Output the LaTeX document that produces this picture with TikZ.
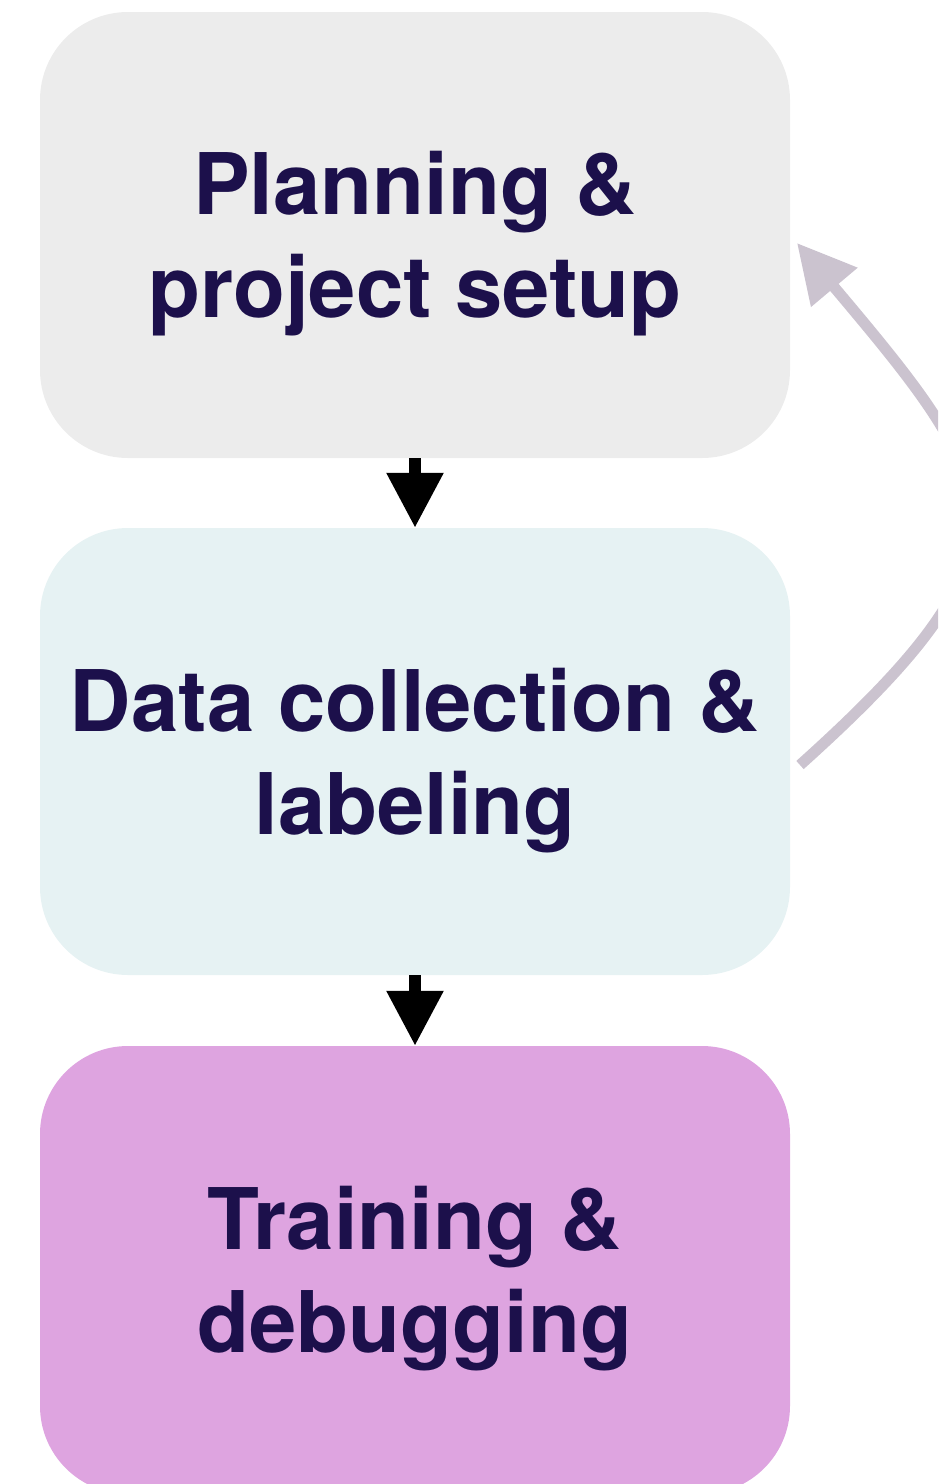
\documentclass[tikz,border=0pt]{standalone}
\usepackage{fontspec}
\setmainfont{TeX Gyre Heros}
\usetikzlibrary{arrows.meta,calc}
\definecolor{txtcol}{RGB}{28,16,75}
\definecolor{boxgray}{RGB}{236,236,236}
\definecolor{boxteal}{RGB}{230,242,243}
\definecolor{boxpink}{RGB}{222,164,224}
\definecolor{loopcol}{RGB}{203,195,207}
\tikzset{
  stagebox/.style={draw=none, rounded corners=88pt, minimum width=750pt,
    inner sep=0pt},
  stagetext/.style={align=center, text=txtcol, inner sep=0pt, yshift=-9pt,
    font=\fontsize{85}{103}\selectfont\bfseries},
  flowarrow/.style={line width=12pt, black, -{Triangle[length=55pt,width=54pt]}},
  looparrow/.style={line width=11pt, loopcol, -{Triangle[length=58pt,width=58pt]}}
}
\begin{document}
\begin{tikzpicture}[x=1pt,y=-1pt]
\useasboundingbox (0,0) rectangle (938,1484);
\clip (0,0) rectangle (938,1484);
\node[stagebox, fill=boxgray, minimum height=446pt,
  label={[stagetext]center:{Planning \&\\project setup}}] (plan) at (415,235) {};
\node[stagebox, fill=boxteal, minimum height=447pt,
  label={[stagetext]center:{Data collection \&\\labeling}}] (data) at (415,751.5) {};
\node[stagebox, fill=boxpink, minimum height=448pt,
  label={[stagetext]center:{Training \&\\debugging}}] (train) at (415,1270) {};
\draw[flowarrow] (plan.south) -- (data.north);
\draw[flowarrow] (data.south) -- (train.north);
\coordinate (loopstart) at (800,765);
\coordinate (loopend) at (797,243);
\draw[looparrow] (loopstart) .. controls (1045,545) and (1005,490) .. (loopend);
\end{tikzpicture}
\end{document}
